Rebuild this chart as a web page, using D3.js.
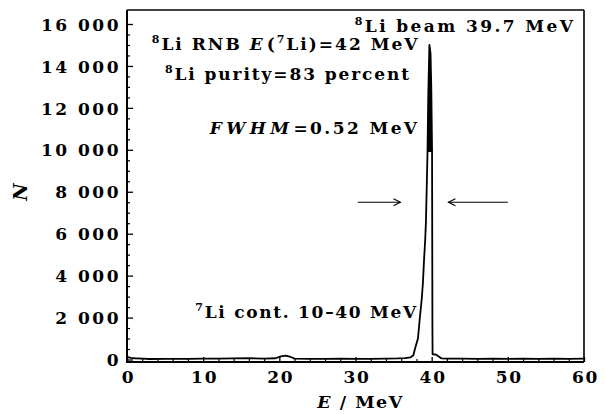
<!DOCTYPE html>
<html><head><meta charset="utf-8">
<script src="https://cdn.jsdelivr.net/npm/d3@7"></script>
<style>
html,body{margin:0;padding:0;background:#fff;}
svg{display:block;}
text{font-family:"DejaVu Serif",serif;fill:#000;}
</style></head>
<body>
<svg id="chart" width="605" height="414"></svg>
<script>
// ---- data ----
const energy = [0,0.5,1,2,3,5,8,10,12,14,16,18,19.5,20.2,20.8,21.5,22,24,26,28,30,32,34,35.5,36.5,37.2,37.6,37.8,38.2,38.4,38.7,38.85,39.0,39.15,39.25,39.35,39.45,39.55,39.7,39.85,39.95,40.05,40.08,40.1,40.12,40.6,41.3,42,44,46,48,50,52,54,56,58,60];
const counts = [120,80,60,40,25,30,30,40,40,50,60,40,60,150,180,120,40,30,30,40,30,30,40,50,70,100,200,500,1000,1800,2900,3650,4760,5700,6600,8200,9800,12500,15000,14600,13000,10000,5000,1500,250,230,50,40,40,30,40,30,40,30,40,30,40];
const xTicks = [0,10,20,30,40,50,60];
const yTicks = [0,2000,4000,6000,8000,10000,12000,14000,16000];
const fwhmLevel = 7500;
const arrowLeft = [30.3, 35.9];   // from, to (E)
const arrowRight = [50.0, 42.2];  // from, to (E)

const svg = d3.select("#chart");
const L = 127, R = 584, T = 10, B = 362;
const x = d3.scaleLinear().domain([0,60]).range([L,R]);
const y = d3.scaleLinear().domain([0,16000]).range([359.5,24]);

// frame
svg.append("line").attr("x1",L).attr("x2",R).attr("y1",T).attr("y2",T).attr("stroke","#000").attr("stroke-width",1.3);
svg.append("line").attr("x1",R).attr("x2",R).attr("y1",T).attr("y2",B).attr("stroke","#000").attr("stroke-width",1.6);
svg.append("line").attr("x1",L).attr("x2",L).attr("y1",T).attr("y2",B+1).attr("stroke","#000").attr("stroke-width",2);
svg.append("line").attr("x1",L-1).attr("x2",R).attr("y1",B).attr("y2",B).attr("stroke","#000").attr("stroke-width",2);

const fmt = d => d3.format(",")(d).replace(/,/g," ");

// y axis
const yMinor = d3.range(0,16001,500).filter(v=>v%2000!==0);
const gy = svg.append("g").attr("transform",`translate(${L},0)`)
  .call(d3.axisLeft(y).tickValues(yTicks).tickSize(-6).tickPadding(6).tickFormat(fmt));
gy.select(".domain").remove();
gy.selectAll("text").attr("font-size",17).attr("font-weight","bold").attr("font-family","DejaVu Serif")
  .attr("letter-spacing",2.5).attr("dy","0.36em");
gy.selectAll("line").attr("stroke-width",1.3);
const gy2 = svg.append("g").attr("transform",`translate(${L},0)`)
  .call(d3.axisLeft(y).tickValues(yMinor).tickSize(-3).tickFormat(""));
gy2.select(".domain").remove();
gy2.selectAll("line").attr("stroke-width",1.2);

// x axis
const xMinor = d3.range(0,61,2).filter(v=>v%10!==0);
const gx = svg.append("g").attr("transform",`translate(0,${B})`)
  .call(d3.axisBottom(x).tickValues(xTicks).tickSize(-5).tickPadding(10).tickFormat(d3.format("d")));
gx.select(".domain").remove();
gx.selectAll("text").attr("font-size",17).attr("font-weight","bold").attr("font-family","DejaVu Serif")
  .attr("letter-spacing",1.8).attr("dx",1).attr("y",21).attr("dy","0");
gx.selectAll("line").attr("stroke-width",1.3);
const gx2 = svg.append("g").attr("transform",`translate(0,${B})`)
  .call(d3.axisBottom(x).tickValues(xMinor).tickSize(-3).tickFormat(""));
gx2.select(".domain").remove();
gx2.selectAll("line").attr("stroke-width",1.2);

// axis titles
svg.append("text").attr("transform","translate(27,192) rotate(-90)").attr("text-anchor","middle")
  .attr("font-size",19).attr("font-style","italic").attr("font-weight","bold").text("N");
const xl = svg.append("text").attr("x",(L+R)/2+5).attr("y",408).attr("text-anchor","middle")
  .attr("font-size",17.5).attr("font-weight","bold").attr("letter-spacing",1.5);
xl.append("tspan").attr("font-style","italic").text("E");
xl.append("tspan").text(" / MeV");

// spectrum
const pts = energy.map((e,i)=>[e,counts[i]]);
const line = d3.line().x(d=>x(d[0])).y(d=>y(d[1]));
const area = d3.area().x(d=>x(d[0])).y0(y(0)).y1(d=>y(d[1]));
svg.append("clipPath").attr("id","topclip").append("rect")
  .attr("x",L).attr("y",T).attr("width",R-L).attr("height",y(9900)-T);
svg.append("path").datum(pts).attr("d",area).attr("fill","#000").attr("clip-path","url(#topclip)");
svg.append("path").datum(pts).attr("d",line).attr("fill","none").attr("stroke","#000").attr("stroke-width",1.8).attr("stroke-linejoin","round");

// arrows
function arrow(x1,x2,yy){
  const dir = Math.sign(x2-x1);
  svg.append("line").attr("x1",x(x1)).attr("x2",x(x2)).attr("y1",y(yy)).attr("y2",y(yy)).attr("stroke","#000").attr("stroke-width",1.1);
  svg.append("path").attr("d",`M${x(x2)-dir*7},${y(yy)-3.5} L${x(x2)},${y(yy)} L${x(x2)-dir*7},${y(yy)+3.5}`)
    .attr("fill","none").attr("stroke","#000").attr("stroke-width",1.1);
}
arrow(arrowLeft[0],arrowLeft[1],fwhmLevel);
arrow(arrowRight[0],arrowRight[1],fwhmLevel);

// annotations
function ann(parts, ex, ey, anchor, ls){
  const t = svg.append("text").attr("x",x(ex)).attr("y",y(ey)).attr("text-anchor",anchor)
    .attr("font-size",17).attr("font-weight","bold").attr("letter-spacing",ls);
  parts.forEach(p=>{
    const s = t.append("tspan").text(p.t);
    if(p.sup){ s.attr("font-size",11).attr("dy",-7); }
    if(p.down){ s.attr("dy",7); }
    if(p.it){ s.attr("font-style","italic").attr("letter-spacing",ls+2); }
  });
}
ann([{t:"8",sup:true},{t:"Li beam 39.7 MeV",down:true}], 29.9, 15620, "start", 2.4);
ann([{t:"8",sup:true},{t:"Li RNB ",down:true},{t:"E",it:true},{t:"("},{t:"7",sup:true},{t:"Li)=42 MeV",down:true}], 38.4, 14760, "end", 2.0);
ann([{t:"8",sup:true},{t:"Li purity=83 percent",down:true}], 37.3, 13330, "end", 1.9);
ann([{t:"FWHM",it:true},{t:"=0.52 MeV"}], 38.4, 10750, "end", 2.4);
ann([{t:"7",sup:true},{t:"Li cont. 10–40 MeV",down:true}], 38.2, 1990, "end", 1.7);
</script>
</body></html>
